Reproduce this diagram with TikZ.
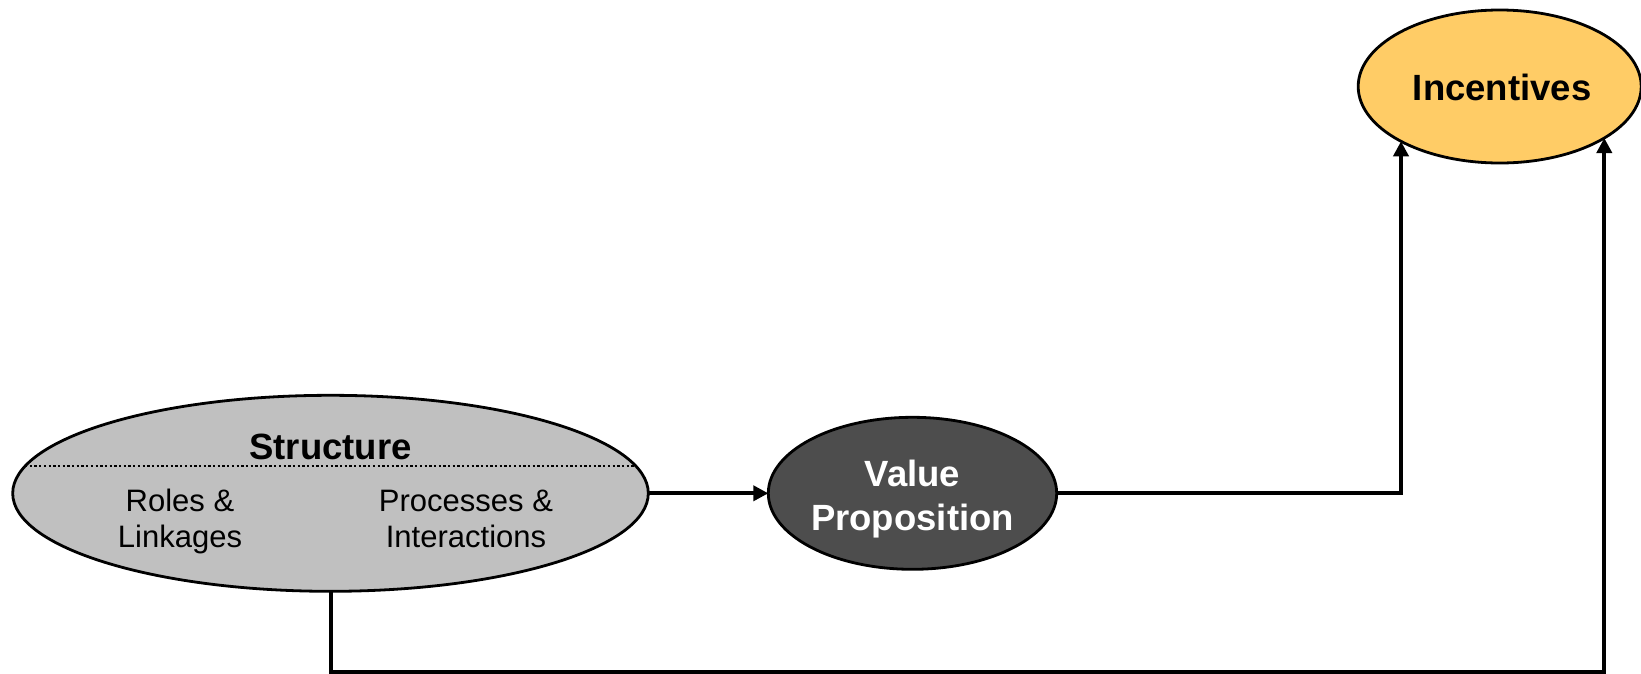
\documentclass[tikz,border=0pt]{standalone}
\usepackage{fontspec}
\setmainfont{Liberation Sans}
\usetikzlibrary{shapes.geometric,arrows.meta,calc}

\definecolor{structfill}{HTML}{C0C0C0}
\definecolor{valuefill}{HTML}{4D4D4D}
\definecolor{incfill}{HTML}{FFCC66}

\tikzset{
  bubble/.style={ellipse, draw=black, line width=2.8pt, inner sep=0pt, outer sep=0pt},
  conn/.style={draw=black, line width=4pt, line join=miter,
    -{Triangle[length=15pt,width=15pt]}},
  headtext/.style={font=\fontsize{36.5}{44}\selectfont\bfseries, inner sep=0pt, anchor=base},
  subtext/.style={font=\fontsize{31}{36}\selectfont, inner sep=0pt, anchor=base},
  divider/.style={draw=black, line width=2pt, dash pattern=on 2.3pt off 2.4pt}
}

\begin{document}
\begin{tikzpicture}[x=1pt, y=-1pt]
  \useasboundingbox (0,0) rectangle (1641,673);

  % the three bubbles
  \node[bubble, fill=structfill, minimum width=635.6pt, minimum height=196pt] (S) at (330.5,493.3) {};
  \node[bubble, fill=valuefill, minimum width=288.4pt, minimum height=152pt] (V) at (912.5,493.3) {};
  \node[bubble, fill=incfill, minimum width=283pt, minimum height=153pt] (I) at (1499.7,86.5) {};

  % dotted divider inside Structure
  \coordinate (dl) at ($(S.center)+(-305.5,-27.3)$);
  \coordinate (dr) at ($(S.center)+(305.5,-27.3)$);
  \draw[divider] (dl) -- (dr);

  % texts
  \node[headtext] (stitle) at ($(S.center)+(0,-34)$) {Structure};
  \node[subtext] (roles) at (180,511.7)
    {\begin{tabular}[t]{@{}c@{}}Roles \&\\Linkages\end{tabular}};
  \node[subtext] (procs) at (466,511.7)
    {\begin{tabular}[t]{@{}c@{}}Processes \&\\Interactions\end{tabular}};
  \node[headtext, text=white] (vtitle) at ($(V.center)+(0,-7)$)
    {\begin{tabular}[t]{@{}c@{}}Value\\Proposition\end{tabular}};
  \node[headtext] (ititle) at ($(I.center)+(2.5,13.5)$) {Incentives};

  % connector end points on the Incentives border and the floor run
  \coordinate (inL) at ($(I.center)+(-98.7,54.8)$);
  \coordinate (inR) at ($(I.center)+(104.6,51.5)$);
  \coordinate (floor) at (330.5,671.7);

  % connectors
  \draw[conn] (S.east) -- (V.west);
  \draw[conn] (V.east) -| (inL);
  \draw[conn] (S.south) -- (floor) -| (inR);
\end{tikzpicture}
\end{document}
